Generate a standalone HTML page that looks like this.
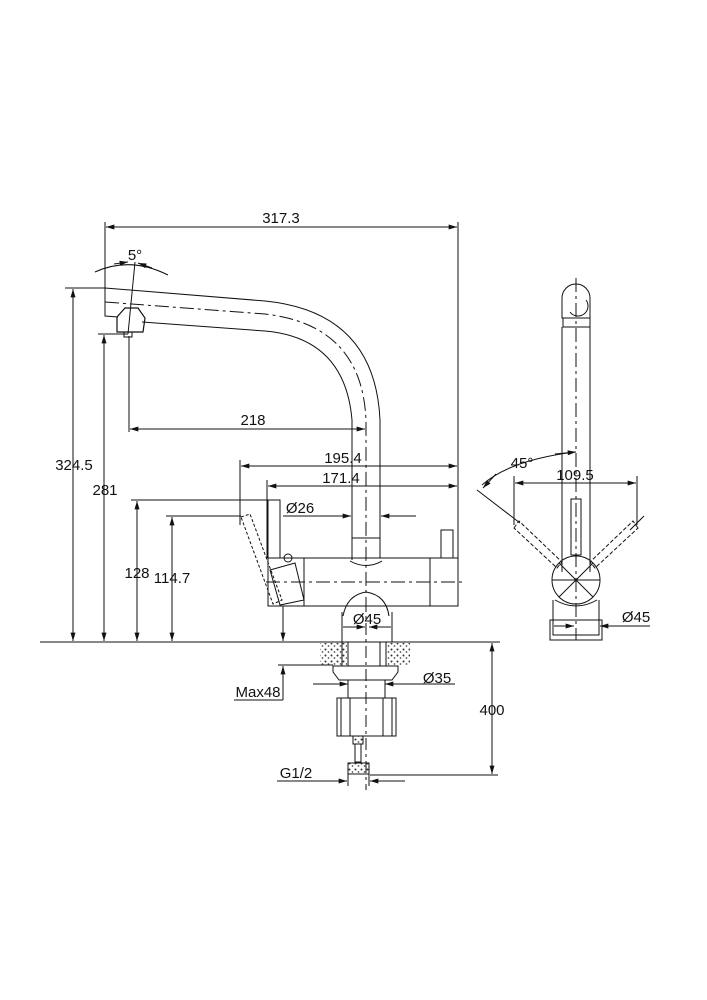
<!DOCTYPE html>
<html><head><meta charset="utf-8"><style>
html,body{margin:0;padding:0;background:#fff}
svg{display:block}
text{font-family:"Liberation Sans",sans-serif;font-size:15px;fill:#111}
</style></head><body>
<svg width="707" height="1000" viewBox="0 0 707 1000" xmlns="http://www.w3.org/2000/svg">
<defs>
<marker id="a" viewBox="0 0 10 6" refX="10" refY="3" markerWidth="14" markerHeight="5" orient="auto-start-reverse" markerUnits="userSpaceOnUse"><path d="M0,0L10,3L0,6z" fill="#111"/></marker>
<pattern id="g" width="6" height="6" patternUnits="userSpaceOnUse"><rect width="6" height="6" fill="#fff"/><circle cx="1.5" cy="1.5" r="1" fill="#333"/><circle cx="4.5" cy="4" r="0.9" fill="#555"/></pattern>
</defs>
<g stroke="#111" stroke-width="1" fill="none">
<line x1="105" y1="222" x2="105" y2="312"/>
<line x1="458" y1="222" x2="458" y2="600"/>
<line x1="106" y1="227" x2="457" y2="227" marker-start="url(#a)" marker-end="url(#a)"/>
<path d="M105,288 L265,301 Q375,312 380,420 L380,558"/>
<path d="M105,288 L105,316 L118,317"/>
<path d="M142,322 L265,331 Q345,338 352,420 L352,560"/>
<path d="M105,302 L265,314 Q362,325 366,420 L366,600" stroke-dasharray="14,4,3,4"/>
<path d="M117,317 L125,308 L138,308 L145,318 L143,332 L117,332 Z" stroke-width="1.2"/>
<rect x="124" y="332" width="8" height="5"/>
<line x1="129" y1="336" x2="129" y2="432"/>
<line x1="135" y1="262" x2="128" y2="334"/>
<path d="M95,272 Q130,256 168,275"/>
<line x1="114" y1="264" x2="128" y2="262" marker-end="url(#a)"/>
<line x1="152" y1="268" x2="138" y2="263" marker-end="url(#a)"/>
<line x1="130" y1="429" x2="365" y2="429" marker-start="url(#a)" marker-end="url(#a)"/>
<line x1="240" y1="460" x2="240" y2="525"/>
<line x1="241" y1="466" x2="457" y2="466" marker-start="url(#a)" marker-end="url(#a)"/>
<line x1="267" y1="480" x2="267" y2="558"/>
<line x1="268" y1="486" x2="457" y2="486" marker-start="url(#a)" marker-end="url(#a)"/>
<line x1="283" y1="516" x2="351" y2="516" marker-end="url(#a)"/>
<line x1="416" y1="516" x2="381" y2="516" marker-end="url(#a)"/>
<rect x="268" y="558" width="190" height="48"/>
<line x1="304" y1="558" x2="304" y2="606"/>
<line x1="430" y1="558" x2="430" y2="606"/>
<rect x="441" y="530" width="12" height="28"/>
<rect x="268" y="500" width="12" height="58"/>
<path d="M352,538 L380,538"/>
<path d="M350,561 Q366,570 382,561"/>
<path d="M343,616 Q347,595 366,592 Q386,595 389,616"/>
<line x1="266" y1="582" x2="462" y2="582" stroke-dasharray="14,4,3,4"/>
<path d="M241,517 L250,514 L282,600 L273,604 Z" stroke-dasharray="3,2"/>
<path d="M270,570 L295,563 L304,600 L280,605 Z"/>
<circle cx="288" cy="558" r="4"/>
<line x1="342" y1="612" x2="342" y2="642"/>
<line x1="392" y1="612" x2="392" y2="642"/>
<line x1="343" y1="627" x2="365" y2="627" marker-end="url(#a)"/>
<line x1="391" y1="627" x2="369" y2="627" marker-end="url(#a)"/>
<line x1="40" y1="642" x2="500" y2="642"/>
<line x1="65" y1="288" x2="105" y2="288"/>
<line x1="73" y1="289" x2="73" y2="641" marker-start="url(#a)" marker-end="url(#a)"/>
<line x1="98" y1="334" x2="128" y2="334"/>
<line x1="104" y1="335" x2="104" y2="641" marker-start="url(#a)" marker-end="url(#a)"/>
<line x1="131" y1="500" x2="280" y2="500"/>
<line x1="137" y1="501" x2="137" y2="641" marker-start="url(#a)" marker-end="url(#a)"/>
<line x1="166" y1="516" x2="241" y2="516"/>
<line x1="172" y1="517" x2="172" y2="641" marker-start="url(#a)" marker-end="url(#a)"/>
<rect x="320" y="643" width="27" height="23" fill="url(#g)" stroke="none"/>
<rect x="386" y="643" width="24" height="23" fill="url(#g)" stroke="none"/>
<rect x="342" y="642" width="44" height="24"/>
<line x1="348" y1="642" x2="348" y2="666"/><line x1="380" y1="642" x2="380" y2="666"/>
<path d="M333,666 L398,666 L398,672 L392,680 L339,680 L333,672 Z"/>
<line x1="348" y1="680" x2="348" y2="698"/><line x1="385" y1="680" x2="385" y2="698"/>
<line x1="313" y1="684" x2="348" y2="684" marker-end="url(#a)"/>
<line x1="455" y1="684" x2="385" y2="684" marker-end="url(#a)"/>
<rect x="337" y="698" width="59" height="38"/>
<line x1="341" y1="698" x2="341" y2="736"/><line x1="350" y1="698" x2="350" y2="736"/><line x1="383" y1="698" x2="383" y2="736"/><line x1="392" y1="698" x2="392" y2="736"/>
<rect x="353" y="736" width="10" height="8" fill="url(#g)"/>
<rect x="355" y="744" width="6" height="18"/>
<rect x="348" y="763" width="21" height="11" fill="url(#g)"/>
<line x1="366" y1="600" x2="366" y2="790" stroke-dasharray="12,4,3,4"/>
<line x1="348" y1="774" x2="348" y2="786"/><line x1="369" y1="774" x2="369" y2="786"/>
<line x1="277" y1="781" x2="347" y2="781" marker-end="url(#a)"/>
<line x1="405" y1="781" x2="370" y2="781" marker-end="url(#a)"/>
<line x1="278" y1="665" x2="333" y2="665"/>
<line x1="283" y1="606" x2="283" y2="641" marker-end="url(#a)"/>
<line x1="283" y1="700" x2="283" y2="666" marker-end="url(#a)"/>
<line x1="234" y1="700" x2="283" y2="700"/>
<line x1="400" y1="642" x2="498" y2="642"/>
<line x1="370" y1="775" x2="498" y2="775"/>
<line x1="492" y1="643" x2="492" y2="774" marker-start="url(#a)" marker-end="url(#a)"/>
<line x1="576" y1="278" x2="576" y2="640" stroke-dasharray="14,4,3,4"/>
<path d="M562,318 L562,298 A14,14 0 0 1 590,298 L590,318 Z"/>
<path d="M570,312 A10,10 0 0 0 586,300"/>
<rect x="563" y="318" width="27" height="9"/>
<path d="M562,327 L562,572 M590,327 L590,572"/>
<rect x="571" y="499" width="10" height="56"/>
<circle cx="576" cy="580" r="24"/>
<path d="M555,600 Q576,612 597,600"/>
<line x1="552" y1="580" x2="600" y2="580"/>
<line x1="559" y1="563" x2="593" y2="597"/><line x1="593" y1="563" x2="559" y2="597"/>
<path d="M514,528 L519,521 L562,562 L557,568 Z" stroke-dasharray="4,2"/>
<path d="M638,528 L633,521 L590,562 L595,568 Z" stroke-dasharray="4,2"/>
<line x1="477" y1="490" x2="520" y2="523"/>
<line x1="644" y1="516" x2="630" y2="530"/>
<path d="M482,485 Q510,460 575,452"/>
<line x1="555" y1="454" x2="576" y2="452" marker-end="url(#a)"/>
<line x1="496" y1="474" x2="483" y2="488" marker-end="url(#a)"/>
<line x1="514" y1="476" x2="514" y2="525"/><line x1="637" y1="476" x2="637" y2="525"/>
<line x1="515" y1="483" x2="636" y2="483" marker-start="url(#a)" marker-end="url(#a)"/>
<rect x="550" y="620" width="52" height="20"/>
<rect x="553" y="620" width="46" height="15"/>
<line x1="553" y1="600" x2="553" y2="620"/><line x1="599" y1="600" x2="599" y2="620"/>
<line x1="554" y1="626" x2="574" y2="626" marker-end="url(#a)"/>
<line x1="650" y1="626" x2="600" y2="626" marker-end="url(#a)"/>
</g>
<g>
<text x="281" y="223" text-anchor="middle">317.3</text>
<text x="135" y="260" text-anchor="middle">5°</text>
<text x="253" y="425" text-anchor="middle">218</text>
<text x="343" y="463" text-anchor="middle">195.4</text>
<text x="341" y="483" text-anchor="middle">171.4</text>
<text x="300" y="513" text-anchor="middle">Ø26</text>
<text x="367" y="624" text-anchor="middle">Ø45</text>
<text x="74" y="470" text-anchor="middle">324.5</text>
<text x="105" y="495" text-anchor="middle">281</text>
<text x="137" y="578" text-anchor="middle">128</text>
<text x="172" y="583" text-anchor="middle">114.7</text>
<text x="437" y="683" text-anchor="middle">Ø35</text>
<text x="258" y="697" text-anchor="middle">Max48</text>
<text x="492" y="715" text-anchor="middle">400</text>
<text x="296" y="778" text-anchor="middle">G1/2</text>
<text x="522" y="468" text-anchor="middle">45°</text>
<text x="575" y="480" text-anchor="middle">109.5</text>
<text x="636" y="622" text-anchor="middle">Ø45</text>
</g>
</svg>
</body></html>
